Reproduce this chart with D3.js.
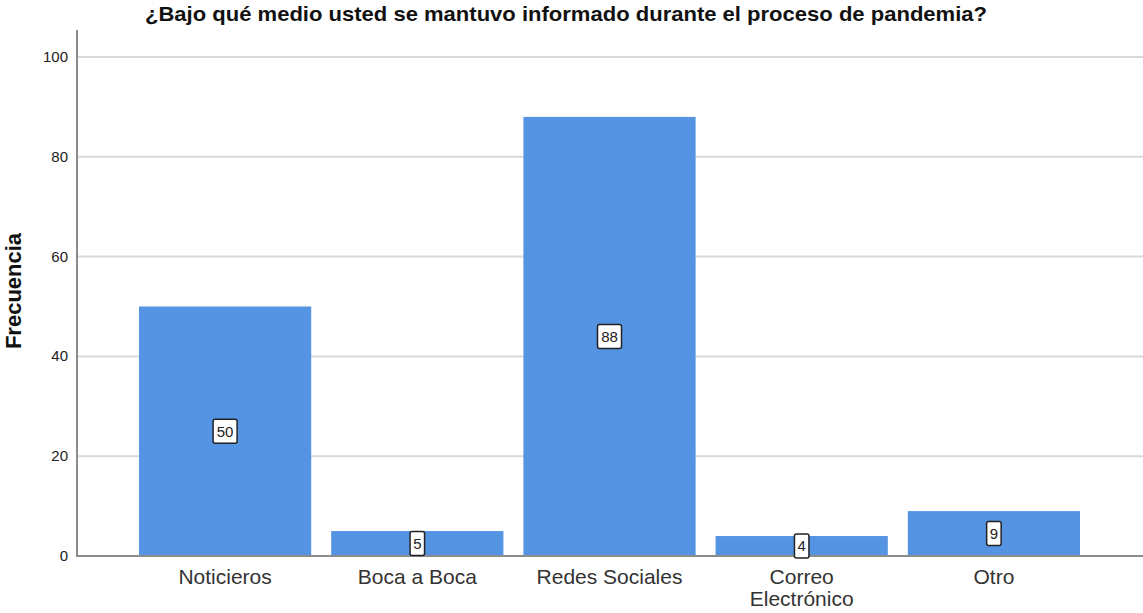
<!DOCTYPE html>
<html>
<head>
<meta charset="utf-8">
<script src="https://cdn.jsdelivr.net/npm/d3@7"></script>
<style>
  body { margin: 0; background: #fff; }
  svg { display: block; font-family: "Liberation Sans", Arial, sans-serif; }
</style>
</head>
<body>
<svg id="chart" width="1143" height="613"></svg>
<script>
// datos del gráfico
const categories = ["Noticieros", "Boca a Boca", "Redes Sociales", "Correo Electrónico", "Otro"];
const categoryLines = [["Noticieros"], ["Boca a Boca"], ["Redes Sociales"], ["Correo", "Electrónico"], ["Otro"]];
const frequencies = [50, 5, 88, 4, 9];
const yTicks = [0, 20, 40, 60, 80, 100];

const svg = d3.select("#chart");
const axisX = 77, plotRight = 1143;
const y0 = 556, yTop = 30;

// escalas
const y = d3.scaleLinear().domain([0, 100]).range([y0, 57]);
const x = d3.scaleBand()
  .domain(categories)
  .range([129, 1090])
  .paddingInner(0.104)
  .paddingOuter(0.052);

// líneas de cuadrícula
svg.append("g")
  .selectAll("line")
  .data(yTicks.filter(d => d > 0))
  .enter()
  .append("line")
  .attr("x1", axisX)
  .attr("x2", plotRight)
  .attr("y1", d => y(d))
  .attr("y2", d => y(d))
  .attr("stroke", "#d9d9d9")
  .attr("stroke-width", 2);

// barras
svg.append("g")
  .selectAll("rect")
  .data(frequencies)
  .enter()
  .append("rect")
  .attr("x", (d, i) => x(categories[i]))
  .attr("y", d => y(d))
  .attr("width", x.bandwidth())
  .attr("height", d => y0 - y(d))
  .attr("fill", "#5594e3");

// ejes
svg.append("line")
  .attr("x1", axisX).attr("x2", axisX)
  .attr("y1", yTop).attr("y2", y0 + 1)
  .attr("stroke", "#8c8c8c").attr("stroke-width", 2);
svg.append("line")
  .attr("x1", axisX).attr("x2", plotRight)
  .attr("y1", y0).attr("y2", y0)
  .attr("stroke", "#8c8c8c").attr("stroke-width", 2);

// etiquetas del eje y
svg.append("g")
  .selectAll("text")
  .data(yTicks)
  .enter()
  .append("text")
  .attr("x", 68)
  .attr("y", d => y(d) + 5)
  .attr("text-anchor", "end")
  .attr("font-size", 15)
  .attr("fill", "#222")
  .text(d => d);

// etiquetas del eje x
const xl = svg.append("g")
  .selectAll("text")
  .data(categories)
  .enter()
  .append("text")
  .attr("x", d => x(d) + x.bandwidth() / 2)
  .attr("y", 584)
  .attr("text-anchor", "middle")
  .attr("font-size", 21)
  .attr("fill", "#333");
xl.selectAll("tspan")
  .data((d, i) => categoryLines[i])
  .enter()
  .append("tspan")
  .attr("x", function () { return d3.select(this.parentNode).attr("x"); })
  .attr("dy", (d, i) => i === 0 ? 0 : 22)
  .text(d => d);

// etiquetas de valor
const lab = svg.append("g")
  .selectAll("g")
  .data(frequencies)
  .enter()
  .append("g")
  .attr("transform", (d, i) => `translate(${x(categories[i]) + x.bandwidth() / 2},${(y(d) + y0) / 2})`);
lab.append("rect")
  .attr("x", d => -(String(d).length * 9.5 + 5) / 2)
  .attr("y", -12)
  .attr("width", d => String(d).length * 9.5 + 5)
  .attr("height", 24)
  .attr("rx", 2)
  .attr("fill", "#fff")
  .attr("stroke", "#222")
  .attr("stroke-width", 1.5);
lab.append("text")
  .attr("text-anchor", "middle")
  .attr("dy", "0.36em")
  .attr("font-size", 15)
  .attr("fill", "#222")
  .text(d => d);

// título
svg.append("text")
  .attr("x", 566)
  .attr("y", 21)
  .attr("text-anchor", "middle")
  .attr("font-size", 21)
  .attr("font-weight", "bold")
  .attr("fill", "#111")
  .attr("textLength", 842)
  .attr("lengthAdjust", "spacingAndGlyphs")
  .text("¿Bajo qué medio usted se mantuvo informado durante el proceso de pandemia?");

// título del eje y
svg.append("text")
  .attr("transform", "translate(21,291) rotate(-90)")
  .attr("text-anchor", "middle")
  .attr("font-size", 22)
  .attr("font-weight", "bold")
  .attr("fill", "#111")
  .text("Frecuencia");
</script>
</body>
</html>
